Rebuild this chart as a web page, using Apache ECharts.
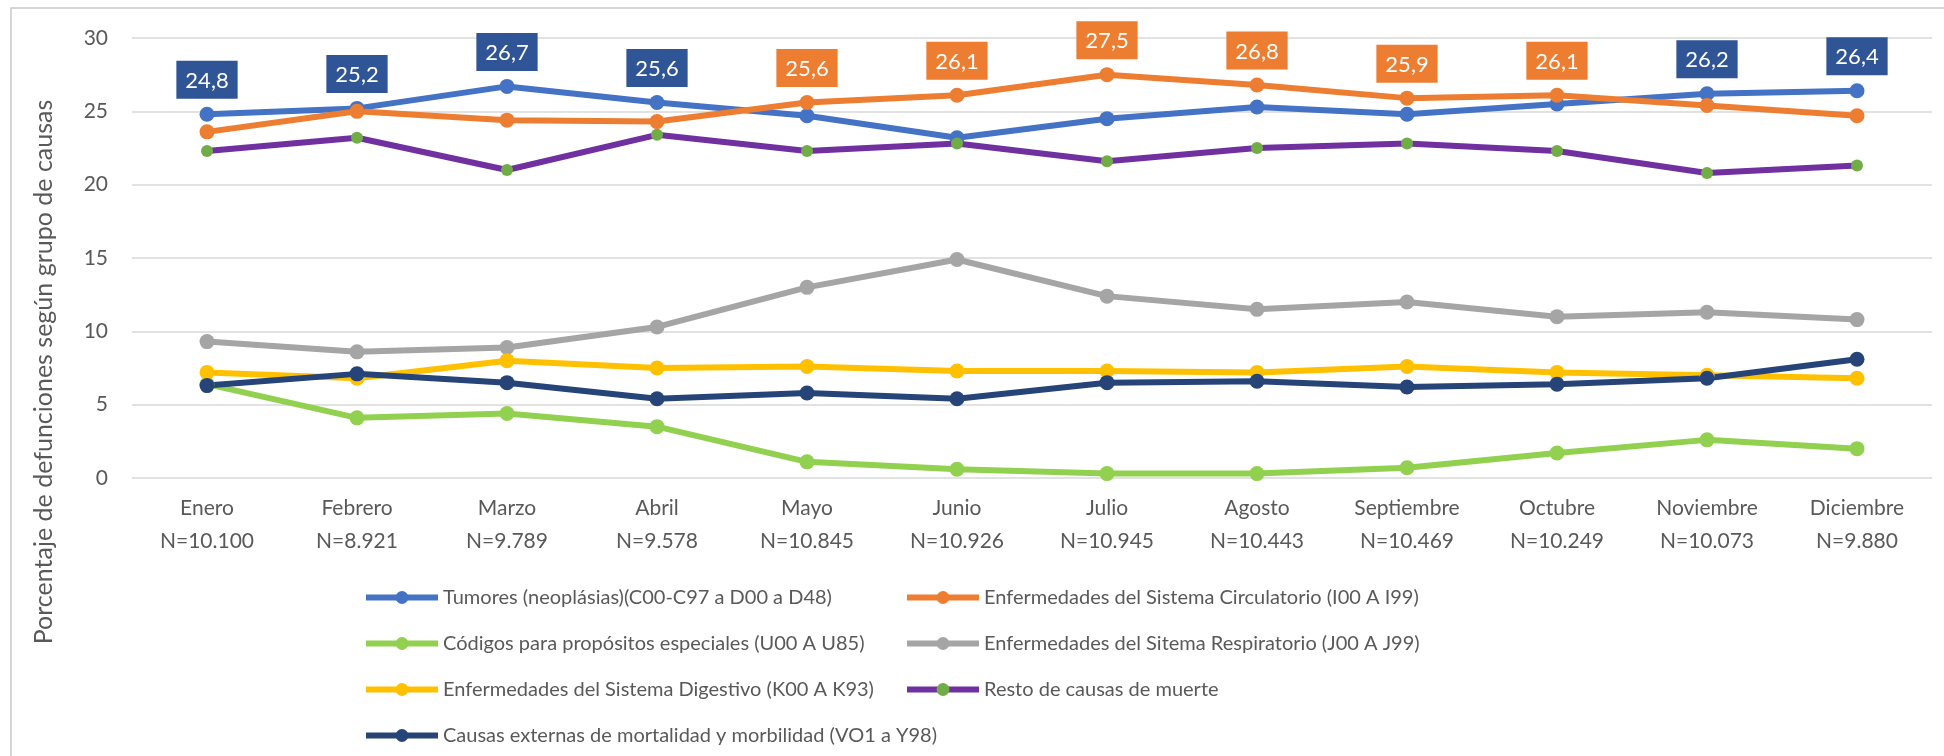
<!DOCTYPE html>
<html>
<head>
<meta charset="utf-8">
<script src="https://cdn.jsdelivr.net/npm/echarts@6/dist/echarts.min.js"></script>
<style>
  html, body { margin: 0; padding: 0; background: #fff; }
  #defunciones { width: 1944px; height: 756px; }
</style>
</head>
<body>
<div id="defunciones"></div>
<script>
// meses y total de defunciones de cada mes
var meses = ['Enero', 'Febrero', 'Marzo', 'Abril', 'Mayo', 'Junio', 'Julio', 'Agosto', 'Septiembre', 'Octubre', 'Noviembre', 'Diciembre'];
var totales = ['N=10.100', 'N=8.921', 'N=9.789', 'N=9.578', 'N=10.845', 'N=10.926', 'N=10.945', 'N=10.443', 'N=10.469', 'N=10.249', 'N=10.073', 'N=9.880'];

// porcentaje por grupo de causas
var tumores      = [24.8, 25.2, 26.7, 25.6, 24.7, 23.2, 24.5, 25.3, 24.8, 25.5, 26.2, 26.4];
var circulatorio = [23.6, 25.0, 24.4, 24.3, 25.6, 26.1, 27.5, 26.8, 25.9, 26.1, 25.4, 24.7];
var codigos      = [6.4, 4.1, 4.4, 3.5, 1.1, 0.6, 0.3, 0.3, 0.7, 1.7, 2.6, 2.0];
var respiratorio = [9.3, 8.6, 8.9, 10.3, 13.0, 14.9, 12.4, 11.5, 12.0, 11.0, 11.3, 10.8];
var digestivo    = [7.2, 6.8, 8.0, 7.5, 7.6, 7.3, 7.3, 7.2, 7.6, 7.2, 7.0, 6.8];
var resto        = [22.3, 23.2, 21.0, 23.4, 22.3, 22.8, 21.6, 22.5, 22.8, 22.3, 20.8, 21.3];
var externas     = [6.3, 7.1, 6.5, 5.4, 5.8, 5.4, 6.5, 6.6, 6.2, 6.4, 6.8, 8.1];

var nombres = {
	tumores: 'Tumores (neoplásias)(C00-C97 a D00 a D48)',
	circulatorio: 'Enfermedades del Sistema Circulatorio (I00 A I99)',
	codigos: 'Códigos para propósitos especiales (U00 A U85)',
	respiratorio: 'Enfermedades del Sitema Respiratorio (J00 A J99)',
	digestivo: 'Enfermedades del Sistema Digestivo (K00 A K93)',
	resto: 'Resto de causas de muerte',
	externas: 'Causas externas de mortalidad y morbilidad (VO1 a Y98)'
};

var fuente = 'Lato';
var gris = '#595959';

var categorias = meses.map(function (m, i) { return m + '\n' + totales[i]; });

function coma(p) {
	return p.value.toFixed(1).replace('.', ',');
}

// etiqueta solo en la serie mas alta de las dos principales
function conEtiqueta(valores, otros, fondo) {
	return valores.map(function (v, i) {
		var mayor = valores === tumores ? v >= otros[i] : v > otros[i];
		if (!mayor) return v;
		return {
			value: v,
			label: {
				show: true, position: 'top', distance: 8, formatter: coma,
				backgroundColor: fondo, color: '#fff', fontFamily: fuente, fontSize: 22,
				padding: [9, 9, 7, 9]
			}
		};
	});
}

function linea(nombre, datos, color, marcador, tam) {
	return {
		name: nombre,
		type: 'line',
		data: datos,
		symbol: 'circle',
		symbolSize: tam || 15,
		lineStyle: { color: color, width: 6 },
		itemStyle: { color: marcador || color },
		emphasis: { disabled: true },
		animation: false
	};
}

var leyenda = {
	top: 580, orient: 'vertical',
	itemWidth: 72, itemHeight: 16, itemGap: 21,
	lineStyle: { width: 6 },
	textStyle: { color: gris, fontFamily: fuente, fontSize: 20, lineHeight: 25 }
};

var myChart = echarts.init(document.getElementById('defunciones'));
myChart.setOption({
	backgroundColor: '#fff',
	grid: { left: 132, right: 12, top: 38, bottom: 278 },
	graphic: [
		{ type: 'rect', z: -10, shape: { x: 11, y: 8, width: 1980, height: 800 }, style: { fill: 'none', stroke: '#C8C8C8', lineWidth: 1.5 } },
		{ type: 'text', x: 44, y: 372, rotation: Math.PI / 2,
			style: { text: 'Porcentaje de defunciones según grupo de causas', fill: gris, font: '25px Lato', align: 'center', verticalAlign: 'middle' } }
	],
	xAxis: {
		type: 'category',
		data: categorias,
		boundaryGap: true,
		axisLine: { show: false },
		axisTick: { show: false },
		axisLabel: { interval: 0, margin: 14, color: gris, fontFamily: fuente, fontSize: 21, lineHeight: 33 }
	},
	yAxis: {
		type: 'value',
		min: 0, max: 30, interval: 5,
		axisLine: { show: false },
		axisTick: { show: false },
		axisLabel: { margin: 24, color: gris, fontFamily: fuente, fontSize: 21 },
		splitLine: { lineStyle: { color: '#D9D9D9', width: 1.5 } }
	},
	legend: [
		Object.assign({}, leyenda, {
			left: 358,
			data: [nombres.tumores, nombres.codigos, nombres.digestivo, nombres.externas]
		}),
		Object.assign({}, leyenda, {
			left: 899,
			data: [nombres.circulatorio, nombres.respiratorio, nombres.resto]
		})
	],
	series: [
		linea(nombres.tumores, conEtiqueta(tumores, circulatorio, '#2F5597'), '#4472C4'),
		linea(nombres.circulatorio, conEtiqueta(circulatorio, tumores, '#ED7D31'), '#ED7D31'),
		linea(nombres.codigos, codigos, '#92D050'),
		linea(nombres.respiratorio, respiratorio, '#A5A5A5'),
		linea(nombres.digestivo, digestivo, '#FFC000'),
		linea(nombres.resto, resto, '#7030A0', '#70AD47', 12),
		linea(nombres.externas, externas, '#264478')
	]
});
</script>
</body>
</html>
